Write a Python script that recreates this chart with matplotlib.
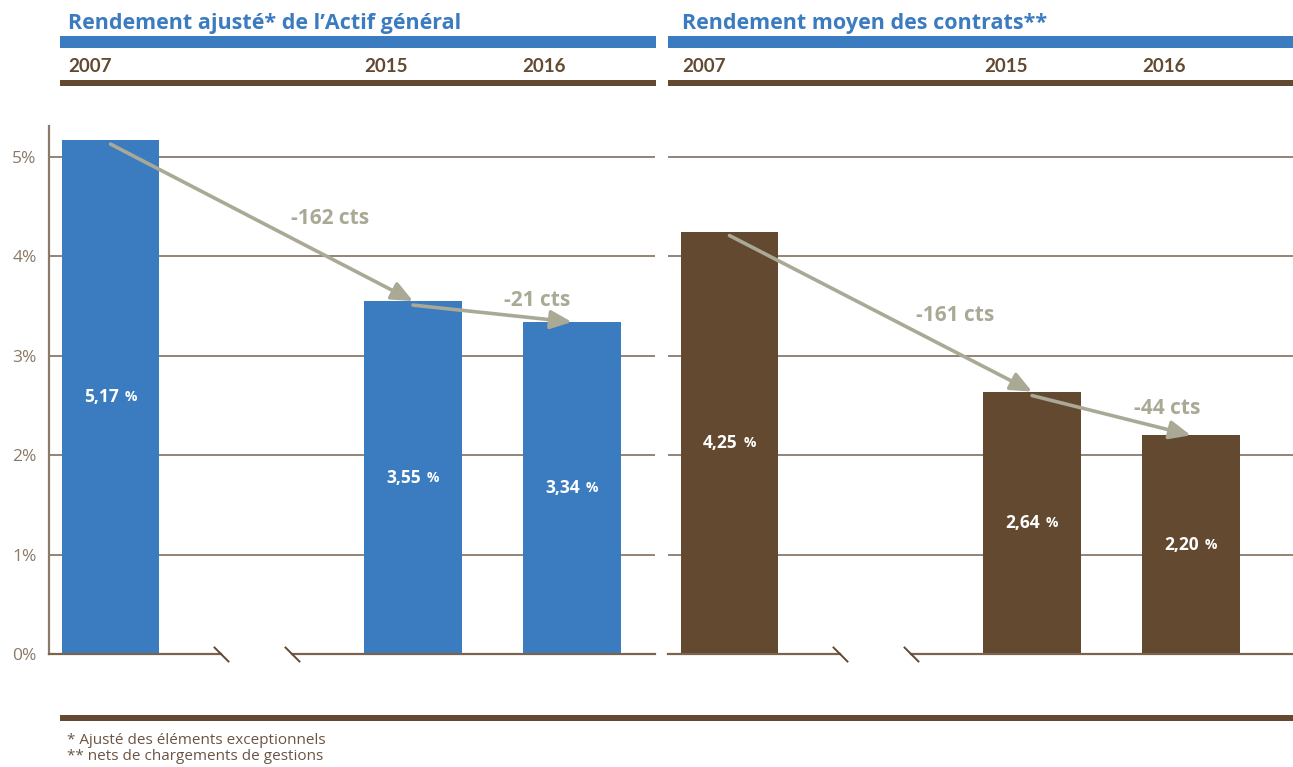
import matplotlib
matplotlib.use("Agg")
from matplotlib import pyplot as plt
from matplotlib.patches import Rectangle
from matplotlib.path import Path as MPath
import matplotlib.transforms as mtransforms

plt.rcParams['font.family'] = ['Open Sans', 'DejaVu Sans']

# données
years = ['2007', '2015', '2016']
actif = [5.17, 3.55, 3.34]
contrats = [4.25, 2.64, 2.20]
titles = ["Rendement ajusté* de l’Actif général", "Rendement moyen des contrats**"]
yticks = [0, 1, 2, 3, 4, 5]
notes = ["* Ajusté des éléments exceptionnels", "** nets de chargements de gestions"]

BLUE = '#3b7cc0'
BROWN = '#624930'
GRID = '#76624f'
ARROW = '#a9a996'
TICK = '#8a7967'

W, H = 1293, 767
fig = plt.figure(figsize=(W / 100, H / 100), dpi=100)

# mise en page (pixels)
pos = [0, 1.915, 2.92]       # emplacement des barres (axe coupé)
breaks = [0.70, 1.15]
bw = 0.62
y0_px, y1_px = 654, 126
ytop = (y0_px - y1_px) / 99.4


def fx(x):
    return x / W


def fy(y):
    return 1 - y / H


slash = MPath([(-1, 1), (1, -1)], [MPath.MOVETO, MPath.LINETO])


def panel(x0, x1, vals, color, label_pos, left_axis):
    ax = fig.add_axes([fx(x0), fy(y0_px), fx(x1 - x0), (y0_px - y1_px) / H])
    xmin = -(61.5) / 158
    xmax = xmin + (x1 - x0) / 158
    ax.set_xlim(xmin, xmax)
    ax.set_ylim(0, ytop)
    for t in yticks[1:]:
        ax.axhline(t, color=GRID, lw=1.1, zorder=0)
    ax.bar(pos, vals, width=bw, color=color, zorder=2)
    ax.set_yticks(yticks)
    ax.set_xticks([])
    for s in ['top', 'right', 'bottom']:
        ax.spines[s].set_visible(False)
    if left_axis:
        ax.spines['left'].set_color('#8c7a68')
        ax.spines['left'].set_linewidth(1.6)
        ax.set_yticklabels([f'{t}%' for t in yticks])
        ax.tick_params(axis='y', length=0, pad=9, labelsize=12.5, labelcolor=TICK)
    else:
        ax.spines['left'].set_visible(False)
        ax.tick_params(axis='y', length=0, labelleft=False)
    # ligne de base coupée
    ax.plot([xmin, breaks[0]], [0, 0], color='#7a6450', lw=1.6, zorder=4, clip_on=False)
    ax.plot([breaks[1], xmax], [0, 0], color='#7a6450', lw=1.6, zorder=4, clip_on=False)
    ax.plot(breaks, [0, 0], ls='none', marker=slash, ms=11, mew=1.4,
            color=BROWN, zorder=5, clip_on=False)
    # étiquettes des valeurs
    for x, v in zip(pos, vals):
        t1 = mtransforms.offset_copy(ax.transData, fig=fig, x=8, y=0, units='dots')
        t2 = mtransforms.offset_copy(ax.transData, fig=fig, x=14, y=0, units='dots')
        ax.text(x, v / 2, f'{v:.2f}'.replace('.', ','), transform=t1, ha='right',
                va='center', color='white', fontsize=12.5, fontweight='bold', zorder=6)
        ax.text(x, v / 2, '%', transform=t2, ha='left', va='center',
                color='white', fontsize=10, fontweight='bold', zorder=6)
    # flèches et écarts
    for i in range(2):
        ax.annotate('', xy=(pos[i + 1], vals[i + 1]), xytext=(pos[i], vals[i] - 0.04),
                    arrowprops=dict(arrowstyle='-|>,head_length=0.8,head_width=0.35',
                                    color=ARROW, lw=2.6, shrinkA=0, shrinkB=0,
                                    mutation_scale=16), zorder=7)
        d = round((vals[i] - vals[i + 1]) * 100)
        ax.text(label_pos[i][0], label_pos[i][1], f'-{d} cts', ha='center', va='center',
                color=ARROW, fontsize=15, fontweight='bold', zorder=7)
    return ax


panel(49, 655, actif, BLUE, [(1.39, 4.38), (2.70, 3.56)], True)
panel(668, W, contrats, BROWN, [(1.43, 3.41), (2.77, 2.47)], False)

# en-têtes
for (x0, x1), title, xs in [((60, 656), titles[0], [68, 364, 522]),
                            ((668, W), titles[1], [682, 984, 1142])]:
    fig.add_artist(Rectangle((fx(x0), fy(48)), fx(x1 - x0), 12 / H,
                             transform=fig.transFigure, color=BLUE, lw=0))
    fig.add_artist(Rectangle((fx(x0), fy(86)), fx(x1 - x0), 6 / H,
                             transform=fig.transFigure, color=BROWN, lw=0))
    fig.text(fx(xs[0]), fy(24), title, color=BLUE,
             fontsize=15.5, fontweight='bold', va='center', ha='left')
    for x, yr in zip(xs, years):
        fig.text(fx(x), fy(67), yr, color=BROWN, fontsize=13.5, fontweight='bold',
                 va='center', ha='left', family=['Lato', 'DejaVu Sans'])

# pied de page
fig.add_artist(Rectangle((fx(60), fy(721)), fx(W - 60), 6 / H,
                         transform=fig.transFigure, color=BROWN, lw=0))
for i, n in enumerate(notes):
    fig.text(fx(67), fy(740 + 17 * i), n, color='#6b5444', fontsize=11,
             va='center', ha='left')

fig.savefig('out.png', dpi=100)
